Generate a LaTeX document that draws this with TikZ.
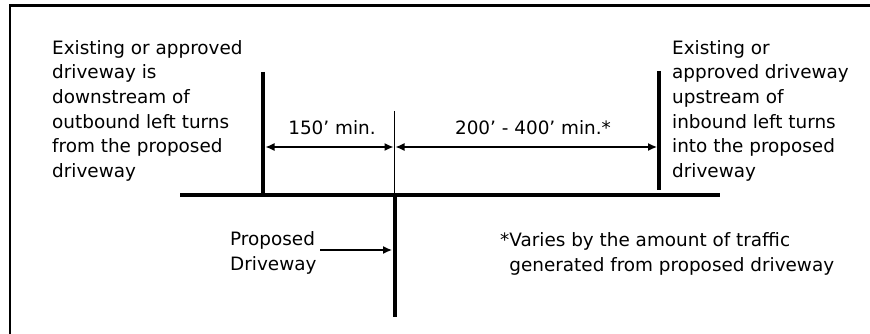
\documentclass[tikz,border=0pt]{standalone}
\usepackage{fontspec}
\setmainfont{DejaVu Sans}
\usetikzlibrary{arrows.meta}
\begin{document}
\begin{tikzpicture}[x=1pt,y=-1pt,
  road/.style={line width=4pt},
  dimline/.style={line width=1.3pt,{Latex[length=9pt,width=8pt]}-{Latex[length=9pt,width=8pt]}},
  ptr/.style={line width=1.3pt,-{Latex[length=9pt,width=8pt]}},
  lbl/.style={font=\fontsize{18.4}{24.6}\selectfont,inner sep=0pt,align=left},
]
\useasboundingbox (0,0) rectangle (870,334);
\begin{scope}
\clip (0,0) rectangle (870,334);
\draw[line width=2.5pt] (10,5.5) rectangle (900,360);
\end{scope}
% road
\coordinate (rl) at (180,195);
\coordinate (rr) at (720,195);
\draw[road] (rl) -- (rr);
% left driveway
\coordinate (ldt) at (263,72);
\coordinate (ldb) at (263,195);
\draw[road] (ldt) -- (ldb);
% right driveway
\coordinate (rdt) at (659,71);
\coordinate (rdb) at (659,190);
\draw[road] (rdt) -- (rdb);
% center line
\coordinate (ct) at (394.5,111);
\coordinate (cb) at (394.5,195);
\draw[line width=0.9pt] (ct) -- (cb);
% proposed driveway
\coordinate (pt) at (395,195);
\coordinate (pb) at (395,317);
\draw[road] (pt) -- (pb);
% dimensions
\coordinate (a1) at (265.5,147);
\coordinate (a2) at (393.5,147);
\coordinate (b1) at (395.5,147);
\coordinate (b2) at (657,147);
\draw[dimline] (a1) -- (a2);
\draw[dimline] (b1) -- (b2);
\node[lbl,anchor=base] (d1) at (332,135) {150’ min.};
\node[lbl,anchor=base] (d2) at (533,135) {200’ - 400’ min.*};
% texts
\node[lbl,anchor=base west] (lt) at (52,177.3) {Existing or approved\\driveway is\\downstream of\\outbound left turns\\from the proposed\\driveway};
\node[lbl,anchor=base west] (rt) at (672,177.3) {Existing or\\approved driveway\\upstream of\\inbound left turns\\into the proposed\\driveway};
\node[lbl,anchor=base west] (pd) at (230,270) {Proposed\\Driveway};
\coordinate (pa) at (320,250);
\coordinate (pe) at (392,250);
\draw[ptr] (pa) -- (pe);
\node[lbl,anchor=base west] (nt) at (500,271.5) {*Varies by the amount of traffic\\\hspace*{0.5em}generated from proposed driveway};
\end{tikzpicture}
\end{document}
